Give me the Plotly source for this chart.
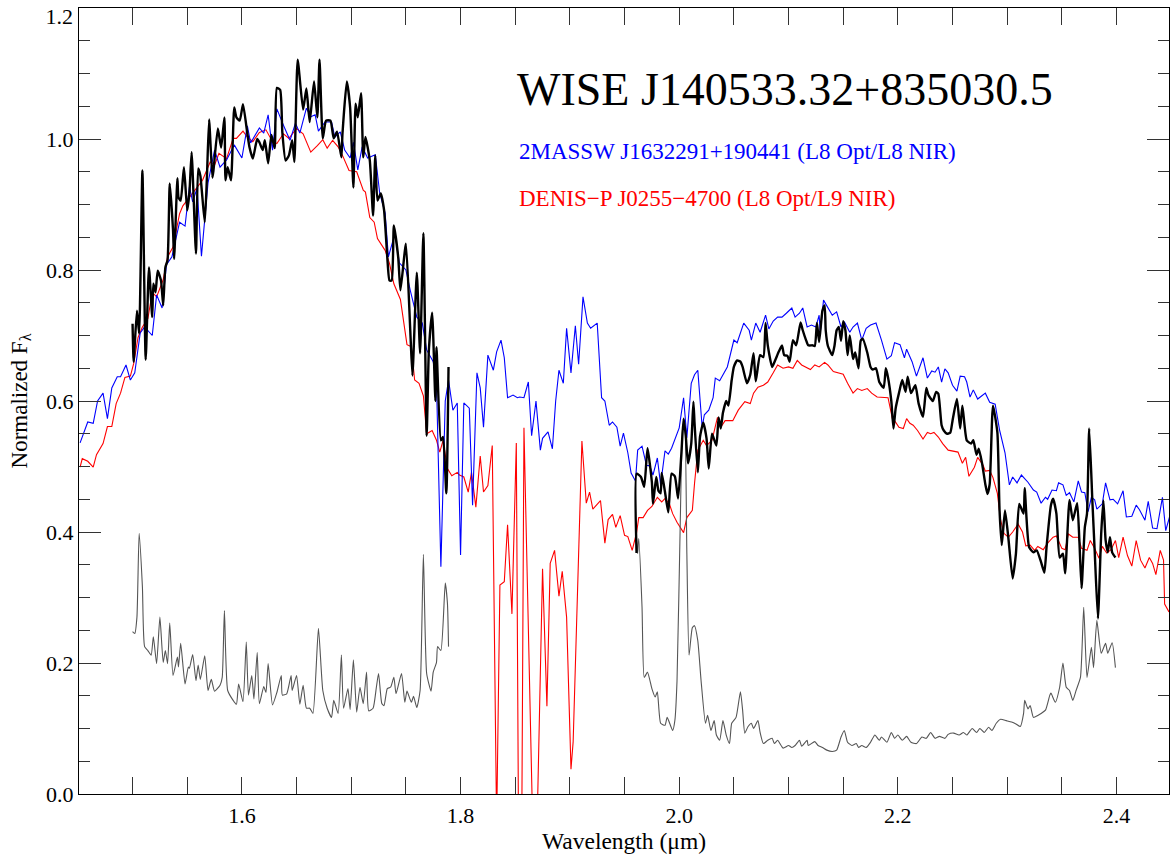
import plotly.graph_objects as go

# ---------------- data ----------------
# Target spectrum, WISE J140533.32+835030.5 (H band segment)
black_h_wl = [1.500, 1.501, 1.504, 1.506, 1.509, 1.512, 1.515, 1.518, 1.519, 1.521, 1.523, 1.526, 1.528, 1.530,
              1.532, 1.534, 1.537, 1.538, 1.541, 1.542, 1.544, 1.547, 1.550, 1.552, 1.554, 1.558, 1.560, 1.562,
              1.566, 1.568, 1.570, 1.573, 1.574, 1.578, 1.581, 1.584, 1.585, 1.587, 1.590, 1.593, 1.595, 1.598,
              1.601, 1.605, 1.607, 1.610, 1.614, 1.616, 1.619, 1.621, 1.624, 1.627, 1.630, 1.632, 1.635, 1.637,
              1.640, 1.643, 1.646, 1.648, 1.651, 1.656, 1.659, 1.662, 1.666, 1.669, 1.671, 1.674, 1.677, 1.681,
              1.684, 1.687, 1.691, 1.692, 1.696, 1.699, 1.702, 1.704, 1.706, 1.709, 1.711, 1.713, 1.717, 1.720,
              1.722, 1.724, 1.727, 1.730, 1.733, 1.735, 1.737, 1.739, 1.743, 1.745, 1.750, 1.754, 1.756, 1.760,
              1.763, 1.766, 1.769, 1.771, 1.774, 1.777, 1.778, 1.782, 1.784, 1.787, 1.789]
black_h_flux = [0.718, 0.660, 0.738, 0.703, 0.952, 0.663, 0.804, 0.728, 0.779, 0.766, 0.799, 0.784, 0.746, 0.804,
                0.815, 0.932, 0.861, 0.817, 0.940, 0.911, 0.906, 0.957, 0.891, 0.918, 0.980, 0.825, 0.955, 0.944,
                0.873, 0.941, 1.030, 0.941, 0.952, 1.016, 0.987, 1.033, 0.937, 0.957, 0.937, 1.048, 1.033, 1.028,
                1.053, 1.008, 0.987, 0.970, 1.000, 0.995, 0.983, 0.998, 0.963, 1.006, 0.986, 1.078, 1.075, 1.010,
                0.967, 0.975, 0.998, 0.965, 1.121, 1.045, 1.077, 1.026, 1.088, 1.033, 1.121, 1.001, 1.028, 1.028,
                1.001, 1.011, 0.972, 1.008, 1.088, 1.048, 0.926, 1.054, 1.033, 1.070, 0.972, 1.003, 0.967, 0.883,
                0.975, 0.906, 0.917, 0.892, 0.819, 0.784, 0.784, 0.868, 0.819, 0.769, 0.840, 0.708, 0.639, 0.796,
                0.673, 0.856, 0.547, 0.677, 0.735, 0.600, 0.682, 0.540, 0.545, 0.459, 0.652]

# Target spectrum (K band segment)
black_k_wl = [1.961, 1.961, 1.965, 1.968, 1.971, 1.975, 1.976, 1.979, 1.981, 1.983, 1.984, 1.987, 1.990, 1.993,
              1.996, 1.999, 2.002, 2.004, 2.006, 2.008, 2.011, 2.013, 2.014, 2.017, 2.019, 2.022, 2.025, 2.027,
              2.030, 2.034, 2.036, 2.038, 2.040, 2.043, 2.045, 2.048, 2.050, 2.053, 2.056, 2.058, 2.062, 2.065,
              2.068, 2.070, 2.074, 2.077, 2.079, 2.081, 2.085, 2.088, 2.091, 2.094, 2.096, 2.099, 2.101, 2.104,
              2.107, 2.111, 2.113, 2.116, 2.118, 2.122, 2.124, 2.126, 2.128, 2.131, 2.133, 2.134, 2.136, 2.140,
              2.142, 2.144, 2.146, 2.148, 2.150, 2.152, 2.154, 2.156, 2.159, 2.161, 2.164, 2.166, 2.168, 2.172,
              2.175, 2.177, 2.180, 2.183, 2.187, 2.189, 2.191, 2.194, 2.196, 2.198, 2.201, 2.204, 2.207, 2.209,
              2.212, 2.216, 2.219, 2.223, 2.226, 2.228, 2.232, 2.235, 2.237, 2.240, 2.242, 2.245, 2.248, 2.250,
              2.254, 2.257, 2.259, 2.263, 2.267, 2.269, 2.272, 2.274, 2.277, 2.280, 2.282, 2.284, 2.287, 2.291,
              2.293, 2.295, 2.298, 2.301, 2.305, 2.308, 2.311, 2.315, 2.316, 2.320, 2.324, 2.327, 2.331, 2.334,
              2.336, 2.340, 2.342, 2.345, 2.348, 2.351, 2.353, 2.357, 2.360, 2.364, 2.366, 2.368, 2.371, 2.373,
              2.375, 2.378, 2.380, 2.383, 2.386, 2.388, 2.390, 2.392, 2.394, 2.396, 2.399]
black_k_flux = [0.368, 0.489, 0.484, 0.469, 0.528, 0.476, 0.443, 0.484, 0.463, 0.459, 0.490, 0.461, 0.430, 0.489,
                0.485, 0.451, 0.520, 0.573, 0.547, 0.505, 0.535, 0.599, 0.567, 0.491, 0.545, 0.567, 0.543, 0.497,
                0.550, 0.532, 0.575, 0.558, 0.582, 0.600, 0.593, 0.632, 0.652, 0.662, 0.660, 0.652, 0.627, 0.640,
                0.673, 0.630, 0.670, 0.667, 0.719, 0.685, 0.652, 0.663, 0.675, 0.685, 0.670, 0.669, 0.660, 0.693,
                0.685, 0.720, 0.708, 0.693, 0.685, 0.685, 0.684, 0.719, 0.690, 0.738, 0.746, 0.708, 0.684, 0.670,
                0.684, 0.708, 0.713, 0.692, 0.722, 0.708, 0.670, 0.700, 0.664, 0.674, 0.650, 0.692, 0.695, 0.674,
                0.652, 0.648, 0.650, 0.629, 0.620, 0.650, 0.636, 0.600, 0.558, 0.589, 0.612, 0.632, 0.614, 0.637,
                0.612, 0.624, 0.596, 0.576, 0.620, 0.609, 0.600, 0.614, 0.611, 0.563, 0.555, 0.550, 0.552, 0.570,
                0.603, 0.558, 0.593, 0.540, 0.535, 0.540, 0.518, 0.527, 0.505, 0.473, 0.458, 0.473, 0.593, 0.552,
                0.433, 0.380, 0.433, 0.392, 0.329, 0.367, 0.443, 0.428, 0.467, 0.377, 0.369, 0.372, 0.354, 0.338,
                0.377, 0.441, 0.451, 0.428, 0.361, 0.367, 0.337, 0.449, 0.418, 0.444, 0.388, 0.314, 0.407, 0.428,
                0.558, 0.444, 0.372, 0.268, 0.398, 0.448, 0.388, 0.369, 0.392, 0.369, 0.361]

# Comparison 1: 2MASSW J1632291+190441
blue_wl = [1.452, 1.459, 1.464, 1.468, 1.473, 1.477, 1.481, 1.486, 1.489, 1.494, 1.498, 1.502, 1.507, 1.511,
           1.518, 1.522, 1.527, 1.531, 1.536, 1.543, 1.548, 1.552, 1.555, 1.559, 1.563, 1.569, 1.575, 1.580,
           1.586, 1.593, 1.600, 1.605, 1.608, 1.616, 1.620, 1.624, 1.628, 1.632, 1.638, 1.644, 1.649, 1.653,
           1.659, 1.663, 1.667, 1.670, 1.676, 1.682, 1.685, 1.690, 1.694, 1.699, 1.702, 1.706, 1.710, 1.715,
           1.722, 1.726, 1.731, 1.734, 1.740, 1.744, 1.750, 1.754, 1.760, 1.765, 1.769, 1.775, 1.778, 1.782,
           1.786, 1.789, 1.793, 1.797, 1.800, 1.803, 1.808, 1.811, 1.815, 1.818, 1.821, 1.825, 1.830, 1.833,
           1.837, 1.840, 1.843, 1.848, 1.852, 1.854, 1.858, 1.862, 1.865, 1.869, 1.873, 1.875, 1.880, 1.884,
           1.887, 1.890, 1.894, 1.897, 1.901, 1.905, 1.908, 1.912, 1.916, 1.919, 1.925, 1.929, 1.932, 1.936,
           1.939, 1.943, 1.946, 1.949, 1.953, 1.956, 1.960, 1.962, 1.966, 1.970, 1.973, 1.976, 1.980, 1.983,
           1.987, 1.990, 1.993, 1.997, 2.000, 2.004, 2.007, 2.011, 2.014, 2.017, 2.021, 2.023, 2.027, 2.031,
           2.033, 2.037, 2.041, 2.044, 2.050, 2.053, 2.059, 2.064, 2.066, 2.070, 2.074, 2.079, 2.082, 2.086,
           2.090, 2.094, 2.098, 2.103, 2.106, 2.110, 2.113, 2.117, 2.121, 2.125, 2.128, 2.129, 2.132, 2.136,
           2.140, 2.144, 2.148, 2.151, 2.156, 2.159, 2.163, 2.167, 2.171, 2.175, 2.180, 2.185, 2.190, 2.194,
           2.197, 2.202, 2.206, 2.208, 2.213, 2.217, 2.223, 2.227, 2.231, 2.234, 2.237, 2.240, 2.243, 2.246,
           2.250, 2.254, 2.257, 2.261, 2.263, 2.266, 2.269, 2.273, 2.277, 2.280, 2.284, 2.289, 2.293, 2.298,
           2.302, 2.305, 2.309, 2.313, 2.319, 2.324, 2.327, 2.331, 2.335, 2.337, 2.341, 2.345, 2.347, 2.351,
           2.354, 2.357, 2.361, 2.365, 2.368, 2.371, 2.374, 2.377, 2.380, 2.382, 2.387, 2.390, 2.394, 2.397,
           2.401, 2.406, 2.409, 2.414, 2.418, 2.421, 2.426, 2.429, 2.433, 2.437, 2.442, 2.445, 2.449]
blue_flux = [0.536, 0.568, 0.566, 0.600, 0.612, 0.573, 0.620, 0.637, 0.637, 0.655, 0.632, 0.643, 0.704, 0.713,
             0.700, 0.762, 0.742, 0.808, 0.820, 0.873, 0.867, 0.927, 0.904, 0.925, 0.821, 0.933, 0.983, 0.957,
             0.968, 0.991, 0.971, 1.020, 0.994, 1.017, 1.009, 1.037, 0.983, 1.046, 1.021, 0.998, 1.024, 1.009,
             1.047, 1.034, 1.037, 1.012, 1.026, 1.026, 1.003, 1.011, 0.983, 0.971, 0.995, 0.953, 0.988, 0.971,
             0.976, 0.918, 0.887, 0.820, 0.856, 0.811, 0.800, 0.769, 0.728, 0.719, 0.678, 0.660, 0.627, 0.347,
             0.600, 0.632, 0.586, 0.597, 0.365, 0.597, 0.589, 0.441, 0.643, 0.620, 0.560, 0.670, 0.647, 0.675,
             0.693, 0.666, 0.605, 0.609, 0.605, 0.606, 0.605, 0.629, 0.547, 0.600, 0.525, 0.543, 0.553, 0.527,
             0.600, 0.647, 0.627, 0.711, 0.643, 0.715, 0.656, 0.759, 0.719, 0.711, 0.719, 0.605, 0.600, 0.563,
             0.568, 0.560, 0.531, 0.551, 0.521, 0.490, 0.478, 0.525, 0.531, 0.502, 0.501, 0.487, 0.513, 0.472,
             0.524, 0.519, 0.528, 0.545, 0.559, 0.605, 0.544, 0.627, 0.640, 0.647, 0.560, 0.579, 0.586, 0.605,
             0.635, 0.631, 0.643, 0.652, 0.693, 0.689, 0.719, 0.708, 0.693, 0.719, 0.705, 0.731, 0.710, 0.722,
             0.728, 0.728, 0.734, 0.742, 0.728, 0.734, 0.742, 0.713, 0.716, 0.713, 0.731, 0.704, 0.754, 0.742,
             0.731, 0.736, 0.713, 0.721, 0.705, 0.713, 0.719, 0.693, 0.711, 0.716, 0.719, 0.693, 0.664, 0.669,
             0.689, 0.686, 0.666, 0.679, 0.660, 0.638, 0.666, 0.635, 0.646, 0.644, 0.652, 0.629, 0.649, 0.643,
             0.624, 0.615, 0.638, 0.637, 0.629, 0.606, 0.617, 0.603, 0.609, 0.612, 0.598, 0.595, 0.556, 0.521,
             0.472, 0.484, 0.475, 0.487, 0.476, 0.464, 0.461, 0.444, 0.453, 0.450, 0.464, 0.463, 0.475, 0.472,
             0.456, 0.460, 0.446, 0.478, 0.461, 0.460, 0.431, 0.453, 0.449, 0.435, 0.443, 0.475, 0.449, 0.450,
             0.443, 0.463, 0.423, 0.424, 0.441, 0.434, 0.418, 0.447, 0.406, 0.405, 0.453, 0.402, 0.426]

# Comparison 2: DENIS-P J0255-4700 (values below zero run off the bottom of the plot)
red_wl = [1.452, 1.454, 1.459, 1.464, 1.467, 1.473, 1.477, 1.481, 1.485, 1.489, 1.493, 1.498, 1.501, 1.505,
          1.509, 1.514, 1.518, 1.522, 1.528, 1.532, 1.537, 1.543, 1.546, 1.552, 1.559, 1.564, 1.571, 1.575,
          1.579, 1.586, 1.592, 1.595, 1.601, 1.605, 1.610, 1.616, 1.622, 1.627, 1.632, 1.638, 1.643, 1.650,
          1.656, 1.663, 1.669, 1.674, 1.678, 1.683, 1.688, 1.692, 1.698, 1.705, 1.711, 1.713, 1.717, 1.721,
          1.724, 1.731, 1.735, 1.739, 1.745, 1.751, 1.755, 1.758, 1.762, 1.766, 1.769, 1.774, 1.778, 1.781,
          1.784, 1.788, 1.792, 1.797, 1.799, 1.803, 1.807, 1.810, 1.814, 1.818, 1.821, 1.825, 1.829, 1.833,
          1.836, 1.840, 1.843, 1.847, 1.851, 1.853, 1.856, 1.858, 1.866, 1.870, 1.875, 1.879, 1.882, 1.886,
          1.890, 1.893, 1.897, 1.901, 1.903, 1.911, 1.915, 1.918, 1.921, 1.925, 1.928, 1.932, 1.935, 1.939,
          1.942, 1.946, 1.950, 1.953, 1.957, 1.961, 1.963, 1.967, 1.971, 1.975, 1.980, 1.984, 1.987, 1.991,
          1.994, 1.998, 2.004, 2.007, 2.012, 2.014, 2.017, 2.022, 2.025, 2.030, 2.035, 2.038, 2.042, 2.049,
          2.054, 2.060, 2.065, 2.068, 2.072, 2.077, 2.081, 2.086, 2.090, 2.095, 2.100, 2.104, 2.108, 2.112,
          2.116, 2.120, 2.124, 2.128, 2.133, 2.136, 2.141, 2.145, 2.150, 2.154, 2.156, 2.159, 2.163, 2.167,
          2.172, 2.176, 2.181, 2.186, 2.191, 2.195, 2.197, 2.201, 2.205, 2.208, 2.211, 2.214, 2.218, 2.223,
          2.227, 2.230, 2.233, 2.237, 2.241, 2.246, 2.250, 2.255, 2.259, 2.262, 2.265, 2.270, 2.273, 2.278,
          2.280, 2.284, 2.287, 2.291, 2.294, 2.297, 2.301, 2.305, 2.310, 2.314, 2.317, 2.321, 2.325, 2.328,
          2.333, 2.337, 2.342, 2.345, 2.350, 2.353, 2.356, 2.360, 2.365, 2.368, 2.373, 2.376, 2.380, 2.384,
          2.387, 2.391, 2.395, 2.399, 2.402, 2.406, 2.410, 2.414, 2.418, 2.422, 2.426, 2.430, 2.433, 2.436,
          2.440, 2.443, 2.444, 2.448]
red_flux = [0.499, 0.512, 0.508, 0.499, 0.518, 0.535, 0.561, 0.561, 0.596, 0.612, 0.636, 0.638, 0.657, 0.697,
            0.713, 0.726, 0.766, 0.759, 0.785, 0.820, 0.835, 0.886, 0.898, 0.911, 0.925, 0.937, 0.965, 0.960,
            0.978, 0.970, 1.001, 1.001, 1.012, 1.003, 0.996, 1.010, 1.014, 0.999, 0.993, 1.008, 1.001, 1.016,
            1.008, 0.980, 0.990, 0.999, 0.986, 0.998, 0.988, 0.975, 0.952, 0.950, 0.922, 0.919, 0.880, 0.873,
            0.848, 0.830, 0.810, 0.779, 0.755, 0.686, 0.683, 0.632, 0.627, 0.608, 0.550, 0.555, 0.540, 0.522,
            0.540, 0.497, 0.486, 0.491, 0.487, 0.484, 0.461, 0.491, 0.438, 0.516, 0.461, 0.471, 0.532, -0.05,
            0.319, 0.324, 0.411, 0.275, 0.536, -0.05, -0.05, 0.559, -0.05, -0.05, 0.344, 0.134, 0.352, 0.372,
            0.302, 0.340, 0.270, 0.038, 0.080, 0.539, 0.444, 0.461, 0.435, 0.442, 0.448, 0.383, 0.419, 0.427,
            0.407, 0.425, 0.395, 0.393, 0.372, 0.399, 0.422, 0.422, 0.433, 0.439, 0.453, 0.446, 0.451, 0.443,
            0.428, 0.415, 0.399, 0.422, 0.433, 0.474, 0.525, 0.540, 0.532, 0.540, 0.575, 0.560, 0.570, 0.570,
            0.586, 0.599, 0.596, 0.612, 0.621, 0.624, 0.629, 0.643, 0.655, 0.650, 0.652, 0.650, 0.662, 0.655,
            0.652, 0.648, 0.655, 0.652, 0.659, 0.655, 0.645, 0.643, 0.641, 0.627, 0.621, 0.612, 0.619, 0.616,
            0.619, 0.612, 0.606, 0.606, 0.605, 0.573, 0.570, 0.560, 0.558, 0.573, 0.566, 0.563, 0.555, 0.542,
            0.552, 0.550, 0.552, 0.545, 0.535, 0.525, 0.524, 0.522, 0.505, 0.514, 0.485, 0.499, 0.514, 0.502,
            0.493, 0.494, 0.483, 0.459, 0.418, 0.398, 0.392, 0.400, 0.412, 0.400, 0.379, 0.380, 0.372, 0.378,
            0.373, 0.383, 0.392, 0.394, 0.375, 0.373, 0.397, 0.392, 0.392, 0.375, 0.372, 0.387, 0.375, 0.360,
            0.378, 0.368, 0.373, 0.387, 0.361, 0.392, 0.364, 0.348, 0.387, 0.357, 0.345, 0.361, 0.352, 0.335,
            0.372, 0.357, 0.290, 0.278]

# Noise spectrum of the target (H band segment)
noise_h_wl = [1.500, 1.502, 1.504, 1.506, 1.509, 1.511, 1.514, 1.517, 1.519, 1.522, 1.525, 1.528, 1.530, 1.532,
              1.534, 1.537, 1.541, 1.542, 1.544, 1.548, 1.551, 1.552, 1.555, 1.558, 1.560, 1.562, 1.566, 1.569,
              1.572, 1.575, 1.580, 1.582, 1.584, 1.587, 1.592, 1.595, 1.597, 1.601, 1.604, 1.606, 1.609, 1.611,
              1.614, 1.616, 1.620, 1.622, 1.624, 1.628, 1.632, 1.636, 1.637, 1.641, 1.645, 1.646, 1.650, 1.653,
              1.656, 1.659, 1.662, 1.665, 1.670, 1.674, 1.678, 1.682, 1.684, 1.688, 1.691, 1.693, 1.697, 1.699,
              1.702, 1.705, 1.708, 1.711, 1.714, 1.716, 1.720, 1.723, 1.725, 1.728, 1.730, 1.733, 1.736, 1.739,
              1.741, 1.746, 1.749, 1.751, 1.755, 1.757, 1.760, 1.763, 1.766, 1.769, 1.773, 1.775, 1.778, 1.779,
              1.782, 1.786, 1.788, 1.789]
noise_h_flux = [0.248, 0.245, 0.270, 0.398, 0.316, 0.225, 0.219, 0.212, 0.240, 0.199, 0.270, 0.201, 0.219, 0.199,
                0.261, 0.181, 0.209, 0.194, 0.230, 0.168, 0.194, 0.192, 0.213, 0.173, 0.197, 0.175, 0.211, 0.158,
                0.175, 0.157, 0.166, 0.178, 0.280, 0.158, 0.143, 0.137, 0.168, 0.141, 0.232, 0.151, 0.181, 0.145,
                0.216, 0.138, 0.164, 0.155, 0.199, 0.136, 0.155, 0.181, 0.151, 0.153, 0.181, 0.158, 0.181, 0.137,
                0.166, 0.131, 0.131, 0.123, 0.253, 0.158, 0.131, 0.117, 0.143, 0.123, 0.212, 0.131, 0.161, 0.129,
                0.205, 0.125, 0.163, 0.138, 0.186, 0.127, 0.131, 0.163, 0.184, 0.138, 0.135, 0.161, 0.163, 0.178,
                0.153, 0.184, 0.140, 0.157, 0.140, 0.149, 0.132, 0.158, 0.366, 0.184, 0.157, 0.186, 0.201, 0.225,
                0.219, 0.322, 0.291, 0.225]

# Noise spectrum of the target (K band segment)
noise_k_wl = [1.961, 1.962, 1.963, 1.966, 1.968, 1.971, 1.975, 1.978, 1.980, 1.983, 1.987, 1.989, 1.994, 1.996,
              1.998, 2.001, 2.003, 2.005, 2.007, 2.009, 2.012, 2.014, 2.017, 2.020, 2.024, 2.026, 2.029, 2.032,
              2.034, 2.037, 2.040, 2.043, 2.046, 2.048, 2.052, 2.056, 2.058, 2.060, 2.063, 2.066, 2.068, 2.072,
              2.074, 2.077, 2.081, 2.085, 2.087, 2.090, 2.095, 2.100, 2.103, 2.106, 2.110, 2.112, 2.117, 2.118,
              2.124, 2.127, 2.131, 2.135, 2.140, 2.144, 2.148, 2.151, 2.154, 2.158, 2.162, 2.164, 2.167, 2.171,
              2.175, 2.179, 2.183, 2.185, 2.190, 2.194, 2.197, 2.200, 2.204, 2.208, 2.212, 2.217, 2.222, 2.226,
              2.230, 2.234, 2.238, 2.243, 2.246, 2.251, 2.256, 2.260, 2.263, 2.268, 2.272, 2.275, 2.279, 2.283,
              2.286, 2.290, 2.294, 2.299, 2.304, 2.308, 2.312, 2.315, 2.316, 2.319, 2.321, 2.324, 2.328, 2.331,
              2.335, 2.339, 2.340, 2.344, 2.348, 2.351, 2.354, 2.357, 2.360, 2.363, 2.367, 2.370, 2.373, 2.377,
              2.379, 2.382, 2.386, 2.390, 2.392, 2.396, 2.399]
noise_k_flux = [0.390, 0.367, 0.390, 0.285, 0.178, 0.186, 0.161, 0.148, 0.156, 0.108, 0.105, 0.117, 0.097, 0.112,
                0.173, 0.418, 0.555, 0.571, 0.367, 0.212, 0.254, 0.257, 0.234, 0.173, 0.108, 0.120, 0.097, 0.112,
                0.090, 0.082, 0.112, 0.090, 0.077, 0.108, 0.117, 0.156, 0.128, 0.093, 0.103, 0.108, 0.100, 0.112,
                0.094, 0.077, 0.082, 0.085, 0.077, 0.082, 0.070, 0.074, 0.071, 0.074, 0.082, 0.073, 0.082, 0.074,
                0.080, 0.074, 0.071, 0.067, 0.065, 0.067, 0.087, 0.097, 0.079, 0.074, 0.077, 0.071, 0.074, 0.071,
                0.079, 0.090, 0.082, 0.087, 0.079, 0.094, 0.085, 0.090, 0.082, 0.088, 0.079, 0.077, 0.087, 0.085,
                0.094, 0.085, 0.088, 0.085, 0.091, 0.093, 0.090, 0.094, 0.090, 0.100, 0.094, 0.100, 0.094, 0.102,
                0.097, 0.108, 0.114, 0.112, 0.110, 0.107, 0.103, 0.123, 0.143, 0.130, 0.135, 0.117, 0.120, 0.123,
                0.128, 0.151, 0.154, 0.140, 0.163, 0.200, 0.163, 0.158, 0.143, 0.158, 0.178, 0.285, 0.178, 0.224,
                0.193, 0.265, 0.215, 0.230, 0.215, 0.231, 0.193]

x_tick_vals = [1.6, 1.8, 2.0, 2.2, 2.4]
y_tick_vals = [0.0, 0.2, 0.4, 0.6, 0.8, 1.0, 1.2]
x_minor_step = 0.05
y_minor_step = 0.05
x_range = [1.451, 2.448]
y_range = [0.0, 1.2]

title_text = "WISE J140533.32+835030.5"
blue_label = "2MASSW J1632291+190441 (L8 Opt/L8 NIR)"
red_label = "DENIS\u2212P J0255\u22124700 (L8 Opt/L9 NIR)"

# ---------------- figure ----------------
FONT = "Liberation Serif, Times New Roman, serif"
TICKFONT = dict(family=FONT, size=22, color="#000000")
top_label = "{:.1f}".format(y_tick_vals[-1])

fig = go.Figure()

fig.add_trace(go.Scatter(x=red_wl, y=red_flux, mode="lines",
                         line=dict(color="#ff0000", width=1.1), showlegend=False))
fig.add_trace(go.Scatter(x=blue_wl, y=blue_flux, mode="lines",
                         line=dict(color="#0000ff", width=1.1), showlegend=False))
for wl, fl in ((noise_h_wl, noise_h_flux), (noise_k_wl, noise_k_flux)):
    fig.add_trace(go.Scatter(x=wl, y=fl, mode="lines",
                             line=dict(color="#555555", width=1.1, shape="spline", smoothing=0.5),
                             showlegend=False))
for wl, fl in ((black_h_wl, black_h_flux), (black_k_wl, black_k_flux)):
    fig.add_trace(go.Scatter(x=wl, y=fl, mode="lines",
                             line=dict(color="#000000", width=2.4, shape="spline", smoothing=0.5),
                             showlegend=False))
# empty trace that only registers the helper axis carrying the top "1.2" label
fig.add_trace(go.Scatter(x=[], y=[], yaxis="y2", mode="lines", showlegend=False, hoverinfo="skip"))

axis_common = dict(
    showline=True, linecolor="#000000", linewidth=1, mirror="allticks",
    ticks="inside", tickwidth=1, tickcolor="#333333",
    showgrid=False, zeroline=False, automargin=False,
    ticklabeloverflow="allow",
    tickfont=TICKFONT,
    tickformat=".1f", layer="above traces",
)

fig.update_xaxes(
    range=x_range,
    tickmode="linear", tick0=x_tick_vals[0], dtick=x_tick_vals[1] - x_tick_vals[0], ticklen=17,
    minor=dict(dtick=x_minor_step, ticks="inside", ticklen=8, tickcolor="#333333", tickwidth=1),
    ticklabelstandoff=2,
    title=dict(text="Wavelength (\u03bcm)", font=dict(family=FONT, size=23.5, color="#000000"), standoff=2),
    **axis_common,
)
# the top label of the main y axis is blanked and drawn instead by the
# helper axis below, sitting just under the top edge as in the reference
fig.update_layout(
    yaxis=dict(
        range=y_range,
        tickmode="linear", tick0=y_tick_vals[0], dtick=y_tick_vals[1] - y_tick_vals[0], ticklen=22,
        minor=dict(dtick=y_minor_step, ticks="inside", ticklen=11, tickcolor="#333333", tickwidth=1),
        labelalias={top_label: ""},
        title=dict(text="Normalized F<sub>\u03bb</sub>", font=dict(family=FONT, size=23, color="#000000"),
                   standoff=12),
        **axis_common,
    ),
    yaxis2=dict(
        overlaying="y", side="left", anchor="x", range=y_range,
        tickmode="array", tickvals=[y_tick_vals[-1]], tickformat=".1f",
        ticks="", showline=False, showgrid=False, zeroline=False,
        tickfont=TICKFONT, ticklabelposition="outside bottom", ticklabeloverflow="allow",
        ticklabelshift=-7, ticklabelstandoff=5,
        automargin=False, fixedrange=True,
    ),
)

fig.add_annotation(xref="paper", yref="paper", x=0.4, y=0.896, xanchor="left", yanchor="middle",
                   text=title_text, showarrow=False,
                   font=dict(family=FONT, size=46, color="#000000"))
fig.add_annotation(xref="paper", yref="paper", x=0.402, y=0.818, xanchor="left", yanchor="middle",
                   text=blue_label, showarrow=False,
                   font=dict(family=FONT, size=23, color="#0000ff"))
fig.add_annotation(xref="paper", yref="paper", x=0.402, y=0.757, xanchor="left", yanchor="middle",
                   text=red_label, showarrow=False,
                   font=dict(family=FONT, size=23, color="#ff0000"))

fig.update_layout(
    width=1172, height=854,
    margin=dict(l=79, r=3, t=8, b=60, autoexpand=False),
    paper_bgcolor="#ffffff", plot_bgcolor="#ffffff",
    font=dict(family=FONT, color="#000000"),
)

fig.write_html("out.html", config={"displayModeBar": False},
               post_script="document.body.style.margin='0px';")
